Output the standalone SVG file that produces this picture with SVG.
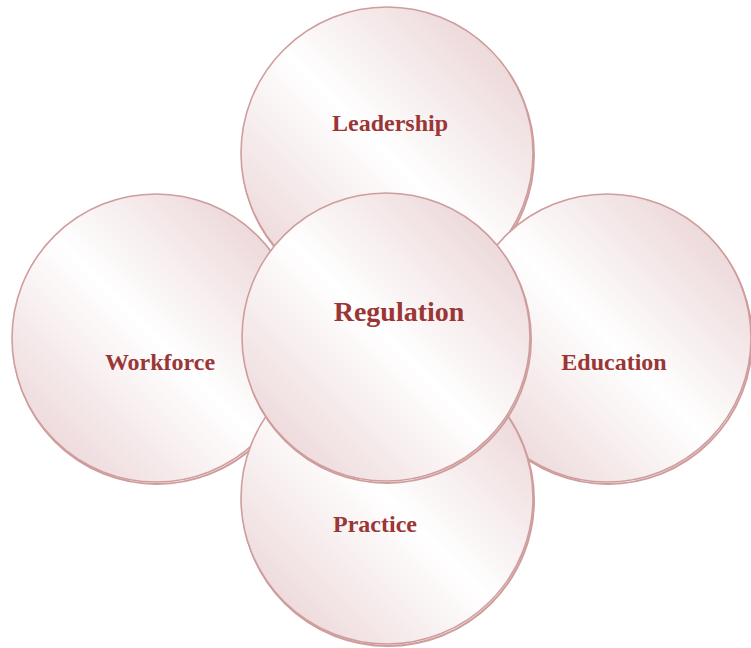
<svg xmlns="http://www.w3.org/2000/svg" width="751" height="648" viewBox="0 0 751 648">
<defs>
<linearGradient id="g" x1="0" y1="1" x2="1" y2="0">
<stop offset="0" stop-color="#e8cdcf"/>
<stop offset="0.5" stop-color="#ffffff"/>
<stop offset="1" stop-color="#e6cacc"/>
</linearGradient>
</defs>
<style>
.sh{fill:none;stroke:#cf9d9d;stroke-width:2}
.c{fill:url(#g);stroke:#cf9d9d;stroke-width:1.6}
.t{font-family:"Liberation Serif",serif;font-weight:bold;fill:#9b3636;text-anchor:middle}
</style>
<rect width="751" height="648" fill="#ffffff"/>
<g id="leadership">
<circle class="sh" cx="388" cy="155" r="146"/>
<circle class="c" cx="387" cy="153" r="146"/>
<text class="t" x="390" y="131" font-size="24">Leadership</text>
</g>
<g id="education">
<circle class="sh" cx="608" cy="340" r="144"/>
<circle class="c" cx="607" cy="338" r="144"/>
<text class="t" x="614" y="370" font-size="24">Education</text>
</g>
<g id="workforce">
<circle class="sh" cx="157" cy="340" r="144"/>
<circle class="c" cx="156" cy="338" r="144"/>
<text class="t" x="160" y="370" font-size="24">Workforce</text>
</g>
<g id="practice">
<circle class="sh" cx="388" cy="500" r="146"/>
<circle class="c" cx="387" cy="498" r="146"/>
<text class="t" x="375" y="532" font-size="24">Practice</text>
</g>
<g id="regulation">
<circle class="sh" cx="387" cy="339" r="144"/>
<circle class="c" cx="386" cy="337" r="144"/>
<text class="t" x="399" y="321" font-size="28">Regulation</text>
</g>
<g id="connectors"></g>
</svg>
